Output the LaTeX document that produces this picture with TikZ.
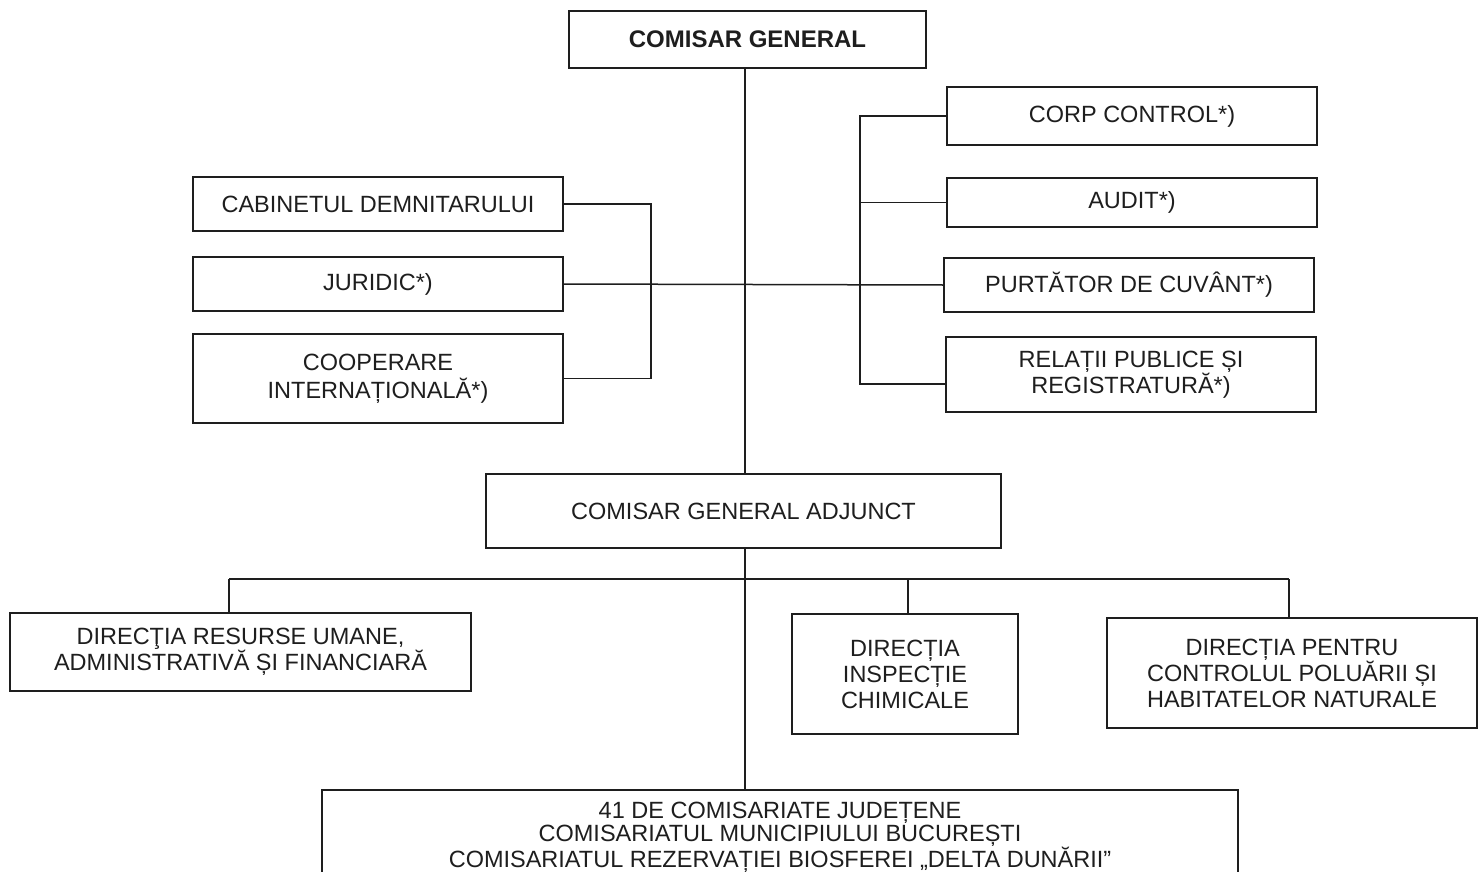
\documentclass[tikz,border=0pt]{standalone}
\usepackage{fontspec}
\setmainfont{Liberation Sans}
\definecolor{ink}{HTML}{1E1E1E}
\begin{document}
\begin{tikzpicture}[x=1pt,y=-1pt,
  box/.style={draw=ink,line width=1.8pt,inner sep=0pt,align=center,text=ink,
    font=\fontsize{23.5}{26}\selectfont},
  link/.style={draw=ink,line width=1.5pt}]
\useasboundingbox (0,0) rectangle (1482,872);
\path[clip] (0,0) rectangle (1482,872);
\fill[white] (0,0) rectangle (1482,872);

\node[box,minimum width=357pt,minimum height=57pt,font=\fontsize{24}{26}\selectfont\bfseries] (cg) at (747.5,39.5) {COMISAR GENERAL};

\node[box,minimum width=370pt,minimum height=54pt] (cab) at (378,204) {CABINETUL DEMNITARULUI};
\node[box,minimum width=370pt,minimum height=54pt] (jur) at (378,284) {JURIDIC*)};
\node[box,minimum width=370pt,minimum height=89pt,font=\fontsize{23.5}{28}\selectfont] (coop) at (378,378.5) {COOPERARE\\INTERNAȚIONALĂ*)};

\node[box,minimum width=370pt,minimum height=58pt] (corp) at (1132,116) {CORP CONTROL*)};
\node[box,minimum width=370pt,minimum height=49pt] (audit) at (1132,202.5) {AUDIT*)};
\node[box,minimum width=370pt,minimum height=54pt] (purt) at (1129,285) {PURTĂTOR DE CUVÂNT*)};
\node[box,minimum width=370pt,minimum height=75pt,font=\fontsize{23.5}{25}\selectfont] (rel) at (1131,374.5) {RELAȚII PUBLICE ȘI\\REGISTRATURĂ*)};

\node[box,minimum width=515pt,minimum height=74pt] (cga) at (743.5,511) {COMISAR GENERAL ADJUNCT};

\node[box,minimum width=461pt,minimum height=78pt] (dru) at (240.5,652) {DIRECŢIA RESURSE UMANE,\\ADMINISTRATIVĂ ȘI FINANCIARĂ};
\node[box,minimum width=226pt,minimum height=120pt] (insp) at (905,674) {DIRECȚIA\\INSPECȚIE\\CHIMICALE};
\node[box,minimum width=370pt,minimum height=110pt] (pol) at (1292,673) {DIRECȚIA PENTRU\\CONTROLUL POLUĂRII ȘI\\HABITATELOR NATURALE};

\node[box,minimum width=916pt,minimum height=94pt,font=\fontsize{23.5}{23}\selectfont] (jud) at (780,837) {41 DE COMISARIATE JUDEȚENE\\COMISARIATUL MUNICIPIULUI BUCUREȘTI\\COMISARIATUL REZERVAȚIEI BIOSFEREI „DELTA DUNĂRII”};

% spine and brackets
\coordinate (spine) at (745,0);
\coordinate (lb) at (651,0);
\coordinate (rb) at (860,0);
\coordinate (relin) at ([yshift=-9.5pt]rel.west);

\draw[link] (cg.south -| spine) -- (cga.north -| spine);
\draw[link] (cga.south -| spine) -- (jud.north -| spine);

\draw[link] (jur.east) -- (purt.west);
\draw[link] (cab.east) -- (cab.east -| lb) -- (coop.east -| lb) -- (coop.east);

\draw[link] (corp.west) -- (corp.west -| rb) -- (relin -| rb) -- (relin);
\draw[link] (audit.west) -- (audit.west -| rb);

% lower bus
\coordinate (busL) at (229,579);
\coordinate (busM) at (908,579);
\coordinate (busR) at (1289,579);
\draw[link] (busL) -- (busR);
\draw[link] (busL) -- (busL |- dru.north);
\draw[link] (busM) -- (busM |- insp.north);
\draw[link] (busR) -- (busR |- pol.north);
\end{tikzpicture}
\end{document}
